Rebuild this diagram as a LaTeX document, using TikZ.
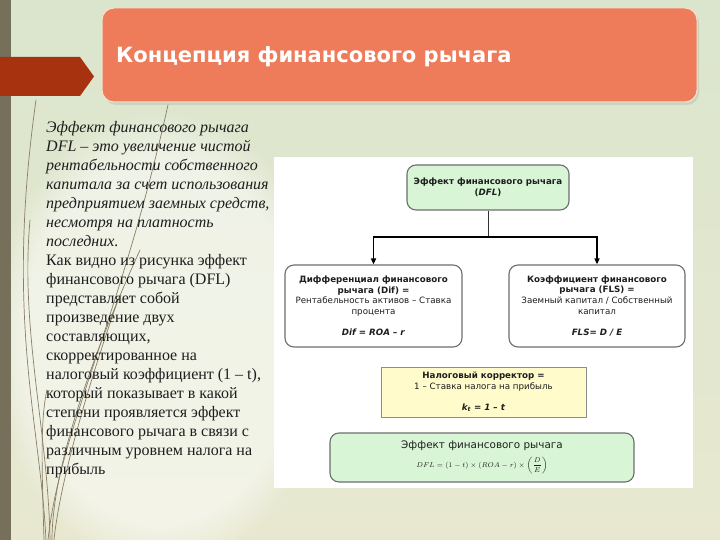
\documentclass[tikz,border=0pt]{standalone}
\usepackage{amsmath}
\usepackage{fontspec}
\setmainfont{Liberation Serif}
\newfontfamily\dejavu{DejaVu Sans}
\usetikzlibrary{arrows.meta,fadings}
\definecolor{bgtop}{HTML}{DBE5CD}
\definecolor{bgbot}{HTML}{E8E8D0}
\definecolor{stripcol}{HTML}{76705A}
\definecolor{banner}{HTML}{A6320F}
\definecolor{titlefill}{HTML}{EE7B5A}
\definecolor{titleedge}{HTML}{F4E3CF}
\definecolor{boxgreen}{HTML}{D8F5D6}
\definecolor{boxyellow}{HTML}{FFFBCB}
\definecolor{boxline}{HTML}{6E6E6E}
\definecolor{grass}{HTML}{8A7E66}
\definecolor{bodytext}{HTML}{1E1E1E}
\tikzset{
  dbox/.style={draw=boxline, line width=1.1pt, rounded corners=9pt, align=center,
    inner sep=0pt, text=bodytext, font={\dejavu\fontsize{8.7}{10.6}\selectfont}},
  conn/.style={draw=black, line width=1.6pt},
  stem/.style={draw=black!80, line width=0.9pt},
  tipd/.style={-{Triangle[length=6pt,width=5pt]}},
  grassline/.style={draw=grass, line width=0.7pt, line cap=round},
}
\begin{document}
\begin{tikzpicture}[x=1pt,y=-1pt]
\useasboundingbox (0,0) rectangle (720,540);
% background
\shade[top color=bgtop, bottom color=bgbot] (0,0) rectangle (720,540);
\fill[white, opacity=0.5, path fading=circle with fuzzy edge 20 percent] (160,340) ellipse (170 and 230);
% left strip
\fill[stripcol] (0,0) rectangle (11,540);
% decorative grass lines
\draw[grassline] (46,540) .. controls (40,420) and (5,320) .. (36,100);
\draw[grassline] (50,540) .. controls (48,430) and (20,330) .. (30,220);
\draw[grassline] (48,540) .. controls (60,430) and (120,320) .. (168,105);
\draw[grassline] (52,540) .. controls (52,470) and (90,360) .. (140,250);
\draw[grassline] (44,540) .. controls (42,470) and (40,420) .. (47,390);
\draw[grassline] (54,540) .. controls (60,480) and (90,380) .. (118,300);
% banner arrow
\fill[banner] (0,57) -- (80,57) -- (94,76.5) -- (80,96) -- (0,96) -- cycle;
% title box
\fill[black, opacity=0.08, rounded corners=12pt] (104,11) rectangle (699,105);
\filldraw[fill=titlefill, draw=titleedge, line width=1pt, rounded corners=12pt] (102,8) rectangle (697,102);
\node[anchor=base west, inner sep=0pt, text=white, font={\dejavu\bfseries\fontsize{21}{25}\selectfont}] (title) at (116,63) {Концепция финансового рычага};
% left text
\node[anchor=base west, inner sep=0pt, text=bodytext] (lefttext) at (46,133) {\parbox[t]{240pt}{\raggedright\fontsize{16}{19}\selectfont
\textit{Эффект финансового рычага}\\
\textit{DFL – это увеличение чистой}\\
\textit{рентабельности собственного}\\
\textit{капитала за счет использования}\\
\textit{предприятием заемных средств,}\\
\textit{несмотря на платность}\\
\textit{последних.}\\
Как видно из рисунка эффект\\
финансового рычага (DFL)\\
представляет собой\\
произведение двух\\
составляющих,\\
скорректированное на\\
налоговый коэффициент (1 – t),\\
который показывает в какой\\
степени проявляется эффект\\
финансового рычага в связи с\\
различным уровнем налога на\\
прибыль}};
% white panel
\fill[white] (274,157) rectangle (693,488);
% diagram boxes
\node[dbox, fill=boxgreen, minimum width=162pt, minimum height=45pt] (top) at (488,187.5)
  {\textbf{Эффект финансового рычага}\\\textbf{(\textit{DFL})}};
\node[dbox, fill=white, minimum width=177pt, minimum height=82pt] (L) at (373.5,306)
  {\textbf{Дифференциал финансового}\\\textbf{рычага (Dif) =}\\Рентабельность активов – Ставка\\процента\\[11pt]\textbf{\textit{Dif = ROA – r}}};
\node[dbox, fill=white, minimum width=176pt, minimum height=82pt] (R) at (597,306)
  {\textbf{Коэффициент финансового}\\\textbf{рычага (FLS) =}\\Заемный капитал / Собственный\\капитал\\[11pt]\textbf{\textit{FLS= D / E}}};
\node[dbox, rounded corners=0pt, fill=boxyellow, draw=black!45, line width=1pt, minimum width=205pt, minimum height=50pt] (Y) at (483.5,392)
  {\textbf{Налоговый корректор =}\\1 – Ставка налога на прибыль\\[10.4pt]\textbf{\textit{k\textsubscript{t} = 1 – t}}};
\node[dbox, fill=boxgreen, minimum width=304pt, minimum height=49pt] (B) at (482,457.5)
  {{\fontsize{10.4}{12}\selectfont Эффект финансового рычага}\\[5pt]{\fontsize{7}{9}\selectfont $DFL=(1-t)\times(ROA-r)\times\left(\dfrac{D}{E}\right)$}};
% connectors
\coordinate (j) at (488,237);
\draw[stem] (top.south) -- (j);
\draw[conn, tipd] (j) -| (L.north);
\draw[conn, tipd] (j) -| (R.north);
\end{tikzpicture}
\end{document}
